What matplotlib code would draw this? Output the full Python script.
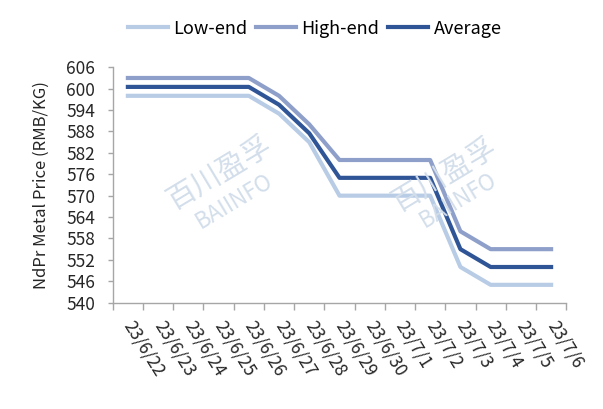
import matplotlib
matplotlib.use('Agg')
import matplotlib.pyplot as plt
import numpy as np

plt.rcParams['font.family'] = ['Noto Sans CJK SC', 'DejaVu Sans']

dates = ['23/6/22', '23/6/23', '23/6/24', '23/6/25', '23/6/26', '23/6/27', '23/6/28',
         '23/6/29', '23/6/30', '23/7/1', '23/7/2', '23/7/3', '23/7/4', '23/7/5', '23/7/6']
low_end = [598, 598, 598, 598, 598, 593, 585, 570, 570, 570, 570, 550, 545, 545, 545]
high_end = [603, 603, 603, 603, 603, 598, 590, 580, 580, 580, 580, 560, 555, 555, 555]
average = [600.5, 600.5, 600.5, 600.5, 600.5, 595.5, 587.5, 575, 575, 575, 575, 555, 550, 550, 550]
y_ticks = list(range(540, 607, 6))

fig = plt.figure(figsize=(6.03, 4.09), dpi=100)
ax = fig.add_axes([0.187, 0.26, 0.752, 0.5755])

# watermarks (behind the lines)
wm_color = '#d3deeb'
for (cx, cy), (bx, by) in [((0.365, 0.575), (0.388, 0.509)),
                           ((0.738, 0.570), (0.760, 0.511))]:
    fig.text(cx, cy, '百川盈孚', fontsize=21, color=wm_color, rotation=31,
             ha='center', va='center', zorder=0)
    fig.text(bx, by, 'BAIINFO', fontsize=16, color=wm_color, rotation=31,
             ha='center', va='center', zorder=0)
ax.set_facecolor('none')

x = np.arange(len(dates))
ax.plot(x, low_end, color='#b8cce6', lw=3, label='Low-end')
ax.plot(x, high_end, color='#8e9fc9', lw=3, label='High-end')
ax.plot(x, average, color='#2f5597', lw=3, label='Average')

ax.set_xlim(-0.5, len(dates) - 0.5)
ax.set_ylim(540, 606)
ax.set_yticks(y_ticks)
ax.tick_params(axis='y', labelsize=12.5, colors='#a6a6a6', labelcolor='#262626',
               length=3.6, width=1, pad=9)

# ticks between categories, labels at centres
ax.set_xticks(np.arange(-0.5, len(dates), 1))
ax.set_xticklabels([])
ax.tick_params(axis='x', which='major', colors='#a6a6a6', length=5, width=1)
ax.set_xticks(x, minor=True)
ax.set_xticklabels(dates, minor=True, rotation=-58, ha='left', va='center',
                   rotation_mode='anchor', fontsize=12.5, color='#262626')
ax.tick_params(axis='x', which='minor', length=0, pad=14)

for s in ['top', 'right']:
    ax.spines[s].set_visible(False)
for s in ['left', 'bottom']:
    ax.spines[s].set_color('#a6a6a6')
    ax.spines[s].set_linewidth(1)

ax.set_ylabel('NdPr Metal Price (RMB/KG)', fontsize=12, color='#262626', labelpad=12)

fig.legend(loc='center', bbox_to_anchor=(0.522, 0.93), ncol=3, frameon=False,
           fontsize=13, handlelength=2.2, handletextpad=0.3, columnspacing=0.5)

fig.savefig('out.png', dpi=100)
